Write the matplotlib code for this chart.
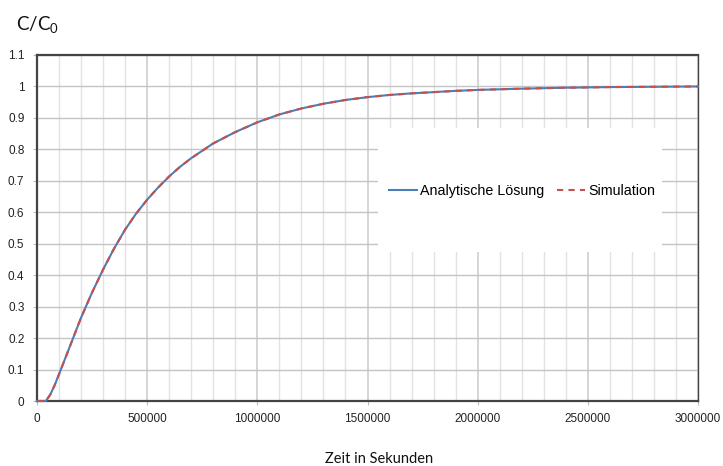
import matplotlib
matplotlib.use("Agg")
import matplotlib.pyplot as plt
from matplotlib.patches import Rectangle
from matplotlib.ticker import MultipleLocator, FuncFormatter

# time in seconds and concentration ratio
zeit = [0, 40000, 60000, 80000, 100000, 125000, 150000, 200000, 250000,
        300000, 350000, 400000, 450000, 500000, 550000, 600000, 650000,
        700000, 800000, 900000, 1000000, 1100000, 1200000, 1300000, 1400000,
        1500000, 1600000, 1700000, 1800000, 1900000, 2000000, 2200000,
        2400000, 2600000, 2800000, 3000000]
analytisch = [0, 0, 0.02, 0.05, 0.085, 0.13, 0.175, 0.265, 0.345,
              0.418, 0.485, 0.545, 0.596, 0.64, 0.679, 0.714, 0.745,
              0.772, 0.819, 0.855, 0.886, 0.911, 0.93, 0.945, 0.957,
              0.966, 0.973, 0.978, 0.982, 0.986, 0.989, 0.993,
              0.996, 0.998, 0.999, 1.0]
simulation = [0, 0, 0.02, 0.05, 0.085, 0.13, 0.175, 0.265, 0.345,
              0.418, 0.485, 0.545, 0.596, 0.64, 0.679, 0.714, 0.745,
              0.772, 0.819, 0.855, 0.886, 0.911, 0.93, 0.945, 0.957,
              0.966, 0.973, 0.978, 0.982, 0.986, 0.989, 0.993,
              0.996, 0.998, 0.999, 1.0]

plt.rcParams["font.family"] = ["Liberation Sans", "DejaVu Sans"]
plt.rcParams["mathtext.fontset"] = "custom"
plt.rcParams["mathtext.rm"] = "Lato"
plt.rcParams["mathtext.it"] = "Lato:italic"

fig = plt.figure(figsize=(7.23, 4.66), dpi=100)
ax = fig.add_axes([37 / 723, 1 - 401 / 466, 661 / 723, 346 / 466])

ax.set_xlim(0, 3000000)
ax.set_ylim(0, 1.1)
ax.xaxis.set_major_locator(MultipleLocator(500000))
ax.xaxis.set_minor_locator(MultipleLocator(100000))
ax.yaxis.set_major_locator(MultipleLocator(0.1))
ax.yaxis.set_major_formatter(FuncFormatter(lambda v, p: f"{round(v, 1):g}"))
ax.xaxis.set_major_formatter(FuncFormatter(lambda v, p: f"{v:.0f}"))

ax.grid(axis="y", which="major", color="#c4c4c4", lw=1.0)
ax.grid(axis="x", which="minor", color="#e2e2e2", lw=1.0)
ax.grid(axis="x", which="major", color="#d2d2d2", lw=1.3)

ax.tick_params(axis="both", which="major", length=3, color="#bfbfbf",
               labelsize=8.5, labelcolor="#222222")
ax.tick_params(axis="x", pad=6)
ax.tick_params(axis="y", pad=6)
ax.tick_params(axis="both", which="minor", length=0)

for side in ["left", "bottom", "top"]:
    ax.spines[side].set_color("#444444")
    ax.spines[side].set_linewidth(1.6)
ax.spines["right"].set_color("#444444")
ax.spines["right"].set_linewidth(1.0)

# white area behind the legend
ax.add_patch(Rectangle((0.516, 0.431), 0.43, 0.358, transform=ax.transAxes,
                       facecolor="white", edgecolor="none", zorder=2))

ax.plot(zeit, analytisch, color="#4a7ebb", lw=1.5, label="Analytische Lösung",
        zorder=3, clip_on=False)
ax.plot(zeit, simulation, color="#c8504a", lw=1.5, dashes=(3, 2.5),
        label="Simulation", zorder=4, clip_on=False)

ax.legend(loc="center", bbox_to_anchor=(0.734, 0.607), ncol=2, frameon=False,
          fontsize=10.3, handlelength=1.95, handletextpad=0.25,
          columnspacing=0.85)

fig.text(16 / 723, 1 - 30 / 466, "C/C$_0$", fontsize=13.5, family="Lato",
         va="baseline", ha="left", color="#111111")
fig.text(379 / 723, 1 - 459 / 466, "Zeit in Sekunden", fontsize=10.5,
         family="Lato", va="center", ha="center", color="#111111")

fig.savefig("out.png", dpi=100)
